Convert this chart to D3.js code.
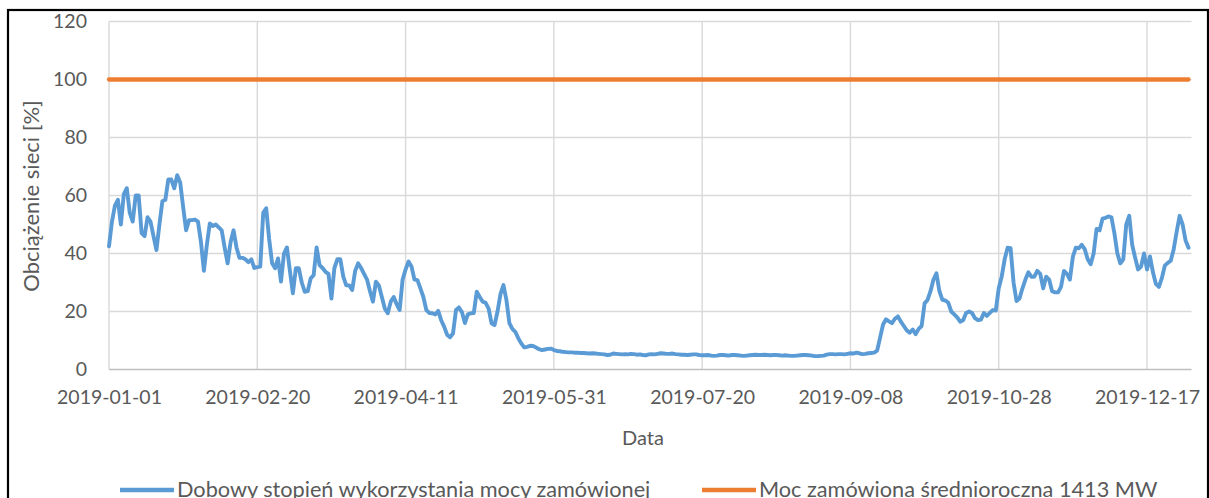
<!DOCTYPE html>
<html>
<head>
<meta charset="utf-8">
<script src="https://cdn.jsdelivr.net/npm/d3@7/dist/d3.min.js"></script>
<style>
  html, body { margin: 0; padding: 0; background: #fff; }
  svg { display: block; }
  text { font-family: Lato, "Open Sans", sans-serif; fill: #595959; }
</style>
</head>
<body>
<svg id="chart" width="1209" height="498"></svg>
<script>
// Daily network load in 2019, as a percent of the contracted power
const startDate = "2019-01-01";
const dailyLoad = [
  42.5, 51, 56.5, 58.5, 50, 60.5, 62.5, 54, 51, 60,
  60, 47, 46, 52.5, 51, 46, 41.2, 50, 58, 58.5,
  65.5, 65.5, 62.5, 67, 64.5, 56, 48, 51.5, 51.5, 51.7,
  51, 44, 34, 43, 50.4, 49.5, 50, 49, 48, 42,
  36.6, 44, 48, 42, 38.5, 38.5, 38, 37, 38, 35,
  35.3, 35.5, 54, 55.6, 45, 36.6, 34.9, 38.3, 30.3, 40,
  42.1, 34, 26.3, 34.9, 34.9, 30, 26.8, 27, 31.4, 32.5,
  42.1, 36, 35, 33.7, 33, 24.5, 35, 38, 38, 32,
  29, 29, 27.4, 34, 36.6, 35, 33, 31, 27, 23.4,
  30.3, 29, 25, 21, 19.4, 23.4, 25, 22.5, 20.5, 31,
  34.5, 37.2, 35.5, 31, 30.8, 28, 25, 20.5, 19.5, 19.4,
  19, 20.2, 17, 14.8, 12, 11.1, 12.5, 20.5, 21.4, 19.8,
  16, 19, 19.4, 19.5, 26.8, 25, 23.4, 23, 21, 15.9,
  15.3, 20, 26, 29.1, 24, 16, 14, 13, 10.8, 9,
  7.6, 7.8, 8.2, 8.1, 7.6, 7, 6.7, 6.9, 7.1, 7.2,
  6.7, 6.4, 6.3, 6.1, 6.0, 5.9, 5.9, 5.8, 5.8, 5.7,
  5.7, 5.6, 5.5, 5.6, 5.5, 5.4, 5.3, 5.2, 5.0, 5.1,
  5.5, 5.4, 5.3, 5.2, 5.3, 5.2, 5.4, 5.3, 5.1, 5.2,
  5.0, 4.9, 5.2, 5.3, 5.2, 5.4, 5.6, 5.5, 5.4, 5.4,
  5.5, 5.3, 5.2, 5.1, 5.1, 5.0, 5.1, 5.2, 5.2, 5.0,
  4.9, 4.9, 5.0, 4.8, 4.7, 4.8, 5.0, 5.0, 4.9, 4.8,
  5.0, 5.0, 4.9, 4.8, 4.7, 4.8, 4.9, 5.0, 5.1, 5.0,
  5.0, 5.1, 5.0, 4.9, 5.0, 5.0, 4.9, 4.8, 4.9, 4.8,
  4.7, 4.7, 4.8, 4.9, 5.0, 5.0, 4.9, 4.8, 4.6, 4.6,
  4.7, 4.8, 5.1, 5.3, 5.3, 5.2, 5.3, 5.3, 5.2, 5.4,
  5.6, 5.5, 5.8, 5.6, 5.3, 5.4, 5.6, 5.7, 5.8, 6.5,
  11, 15.5, 17.3, 16.6, 16, 17.5, 18.3, 16.5, 15, 13.5,
  12.7, 13.8, 12.2, 14, 15, 22.8, 24, 27, 31, 33.2,
  27, 24, 23.8, 23, 20, 19, 18, 16.5, 17, 19.5,
  20, 19.5, 17.7, 17, 17.2, 19.5, 18.5, 19.5, 20.5, 20.3,
  28, 32, 38, 42, 41.8, 30, 23.6, 24.5, 28, 31,
  33.5, 32, 32, 34, 33, 28, 32, 31, 27, 26.6,
  26.6, 28.5, 34, 33, 31, 38.9, 42, 41.8, 43, 41.5,
  38, 36.3, 40, 48.5, 48, 52, 52.3, 52.8, 52.5, 47,
  40, 36.6, 38, 50, 53, 43, 38.5, 34.5, 35.5, 40,
  34.5, 39, 33.5, 29.5, 28.5, 31.5, 35.8, 36.8, 37.5, 41.5,
  47.5, 53, 50, 44.5, 42
];
// Contracted average annual power, as a percent of itself
const contractedLevel = 100;

const xTickLabels = ["2019-01-01", "2019-02-20", "2019-04-11", "2019-05-31",
                     "2019-07-20", "2019-09-08", "2019-10-28", "2019-12-17"];
const yTickValues = [0, 20, 40, 60, 80, 100, 120];
const seriesNames = ["Dobowy stopień wykorzystania mocy zamówionej",
                     "Moc zamówiona średnioroczna 1413 MW"];
const seriesColors = ["#5B9BD5", "#ED7D31"];

const parse = d3.utcParse("%Y-%m-%d");
const fmt = d3.utcFormat("%Y-%m-%d");
const day0 = parse(startDate);
const days = dailyLoad.map((v, i) => ({ date: d3.utcDay.offset(day0, i), value: v }));

const svg = d3.select("#chart");
const plot = { left: 109, right: 1191.5, top: 21.5, bottom: 369.5 };

const x = d3.scaleUtc()
  .domain([day0, d3.utcYear.offset(day0, 1)])
  .range([plot.left, plot.right]);
const y = d3.scaleLinear().domain([0, 120]).range([plot.bottom, plot.top]);

// outer frame
svg.append("rect")
  .attr("x", 8).attr("y", 10).attr("width", 1200).attr("height", 520)
  .attr("fill", "none").attr("stroke", "#000").attr("stroke-width", 2.2);

// horizontal gridlines
svg.append("g")
  .selectAll("line").data(yTickValues.filter(v => v > 0)).join("line")
  .attr("x1", plot.left).attr("x2", plot.right)
  .attr("y1", d => y(d)).attr("y2", d => y(d))
  .attr("stroke", "#d9d9d9").attr("stroke-width", 1.4);

// vertical gridlines at the date ticks
const xTicks = xTickLabels.map(parse);
svg.append("g")
  .selectAll("line").data(xTicks).join("line")
  .attr("x1", d => x(d)).attr("x2", d => x(d))
  .attr("y1", plot.top).attr("y2", plot.bottom)
  .attr("stroke", "#d9d9d9").attr("stroke-width", 1.4);

// baseline
svg.append("line")
  .attr("x1", plot.left).attr("x2", plot.right)
  .attr("y1", y(0)).attr("y2", y(0))
  .attr("stroke", "#bfbfbf").attr("stroke-width", 1.6);

// y axis labels
const yAxis = d3.axisLeft(y).tickValues(yTickValues).tickSize(0).tickPadding(0);
svg.append("g")
  .attr("transform", `translate(87,0)`)
  .call(yAxis)
  .call(g => g.select(".domain").remove())
  .call(g => g.selectAll("text")
    .attr("font-size", 19.5).attr("fill", "#595959")
    .attr("font-family", "Lato, sans-serif"));

// x axis labels
const xAxis = d3.axisBottom(x).tickValues(xTicks).tickFormat(fmt).tickSize(0).tickPadding(0);
svg.append("g")
  .attr("transform", `translate(0,390)`)
  .call(xAxis)
  .call(g => g.select(".domain").remove())
  .call(g => g.selectAll("text")
    .attr("font-size", 19.5).attr("fill", "#595959")
    .attr("font-family", "Lato, sans-serif"));

// contracted power line
svg.append("line")
  .attr("x1", x(days[0].date)).attr("x2", x(days[days.length - 1].date))
  .attr("y1", y(contractedLevel)).attr("y2", y(contractedLevel))
  .attr("stroke", seriesColors[1]).attr("stroke-width", 4.3)
  .attr("stroke-linecap", "round");

// daily load line
svg.append("path")
  .datum(days)
  .attr("fill", "none")
  .attr("stroke", seriesColors[0])
  .attr("stroke-width", 3.9)
  .attr("stroke-linejoin", "round")
  .attr("stroke-linecap", "round")
  .attr("d", d3.line().x(d => x(d.date)).y(d => y(d.value)));

// axis titles
svg.append("text")
  .attr("transform", `translate(39,196) rotate(-90)`)
  .attr("text-anchor", "middle")
  .attr("font-size", 22)
  .text("Obciążenie sieci [%]");

svg.append("text")
  .attr("x", 643).attr("y", 445)
  .attr("text-anchor", "middle")
  .attr("font-size", 20)
  .text("Data");

// legend
const legendItems = [
  { name: seriesNames[0], color: seriesColors[0], x0: 120 },
  { name: seriesNames[1], color: seriesColors[1], x0: 702 }
];
const legend = svg.append("g");
legendItems.forEach(it => {
  legend.append("line")
    .attr("x1", it.x0).attr("x2", it.x0 + 54)
    .attr("y1", 490).attr("y2", 490)
    .attr("stroke", it.color).attr("stroke-width", 4.3);
  legend.append("text")
    .attr("x", it.x0 + 57).attr("y", 497)
    .attr("font-size", 21.7)
    .text(it.name);
});
</script>
</body>
</html>
